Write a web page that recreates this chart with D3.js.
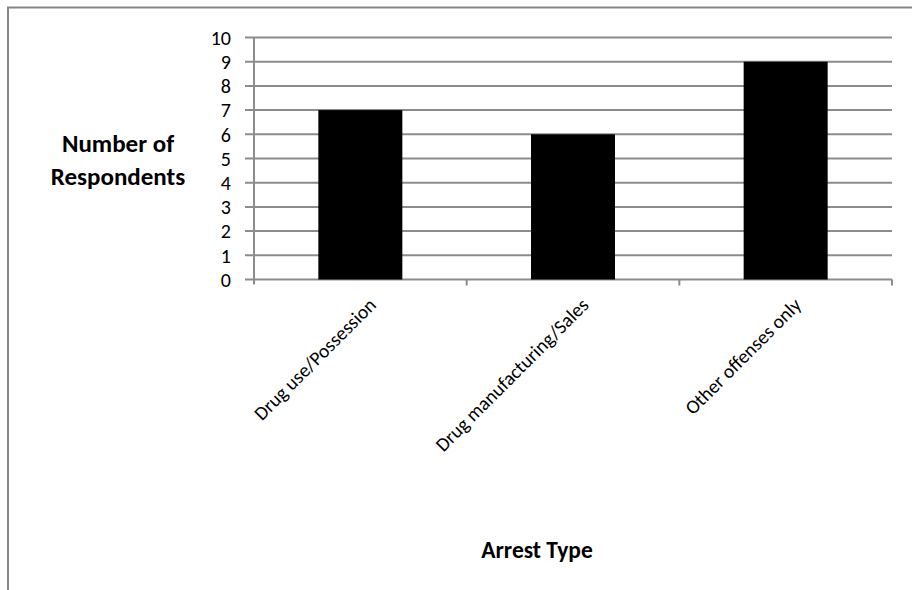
<!DOCTYPE html>
<html>
<head>
<meta charset="utf-8">
<script src="https://cdn.jsdelivr.net/npm/d3@7"></script>
<style>
  html, body { margin: 0; padding: 0; background: #fff; }
  svg { display: block; }
  text { font-family: Carlito, Calibri, Lato, "Open Sans", sans-serif; fill: #000; }
</style>
</head>
<body>
<svg id="chart" width="912" height="590"></svg>
<script>
// Arrest type counts
const categories = ["Drug use/Possession", "Drug manufacturing/Sales", "Other offenses only"];
const respondents = [7, 6, 9];
const yTicks = [0, 1, 2, 3, 4, 5, 6, 7, 8, 9, 10];

const svg = d3.select("#chart");
const margin = { left: 254, right: 20, top: 37.5, bottom: 310.5 };
const W = 912, H = 590;
const x0 = margin.left, x1 = W - margin.right;
const y0 = H - margin.bottom, y1 = margin.top;

// Outer chart frame
svg.append("rect")
  .attr("x", 8).attr("y", 7.5)
  .attr("width", 1000).attr("height", 1000)
  .attr("fill", "none").attr("stroke", "#878787").attr("stroke-width", 2);

const xBand = d3.scaleBand().domain(categories).range([x0, x1]);
const y = d3.scaleLinear().domain([0, 10]).range([y0, y1]);

// Horizontal gridlines with left tick stubs
svg.append("g").selectAll("line").data(yTicks).join("line")
  .attr("x1", x0 - 9).attr("x2", x1)
  .attr("y1", d => y(d)).attr("y2", d => y(d))
  .attr("stroke", "#8c8c8c").attr("stroke-width", 2);

// Y axis line
svg.append("line")
  .attr("x1", x0).attr("x2", x0).attr("y1", y1).attr("y2", y0 + 5)
  .attr("stroke", "#8c8c8c").attr("stroke-width", 2);

// Category tick marks at band boundaries
const bounds = categories.map(c => xBand(c)).concat([x1]);
svg.append("g").selectAll("line").data(bounds.slice(1)).join("line")
  .attr("x1", d => d).attr("x2", d => d).attr("y1", y0).attr("y2", y0 + 6)
  .attr("stroke", "#8c8c8c").attr("stroke-width", 2);

// Bars
svg.append("g").selectAll("rect").data(respondents).join("rect")
  .attr("x", (d, i) => xBand(categories[i]) + xBand.bandwidth() / 2 - 42)
  .attr("width", 84)
  .attr("y", d => y(d))
  .attr("height", d => y0 - y(d))
  .attr("fill", "#000");

// Y tick labels
svg.append("g").selectAll("text").data(yTicks).join("text")
  .attr("x", 231).attr("y", d => y(d))
  .attr("dy", "0.36em")
  .attr("text-anchor", "end")
  .style("font-size", "20px")
  .text(d => d);

// Rotated category labels
svg.append("g").selectAll("text").data(categories).join("text")
  .attr("transform", c => `translate(${xBand(c) + xBand.bandwidth() / 2 + 12},${y0 + 22}) rotate(-45)`)
  .attr("text-anchor", "end")
  .attr("dy", "0.35em")
  .style("font-size", "19.5px")
  .text(c => c);

// Y axis title
const yt = svg.append("text")
  .attr("x", 118).attr("y", 152)
  .attr("text-anchor", "middle")
  .style("font-size", "25px").style("font-weight", "bold");
yt.append("tspan").attr("x", 118).attr("dy", 0).text("Number of");
yt.append("tspan").attr("x", 118).attr("dy", 33).text("Respondents");

// X axis title
svg.append("text")
  .attr("x", 537).attr("y", 558)
  .attr("text-anchor", "middle")
  .style("font-size", "23.5px").style("font-weight", "bold")
  .text("Arrest Type");
</script>
</body>
</html>
